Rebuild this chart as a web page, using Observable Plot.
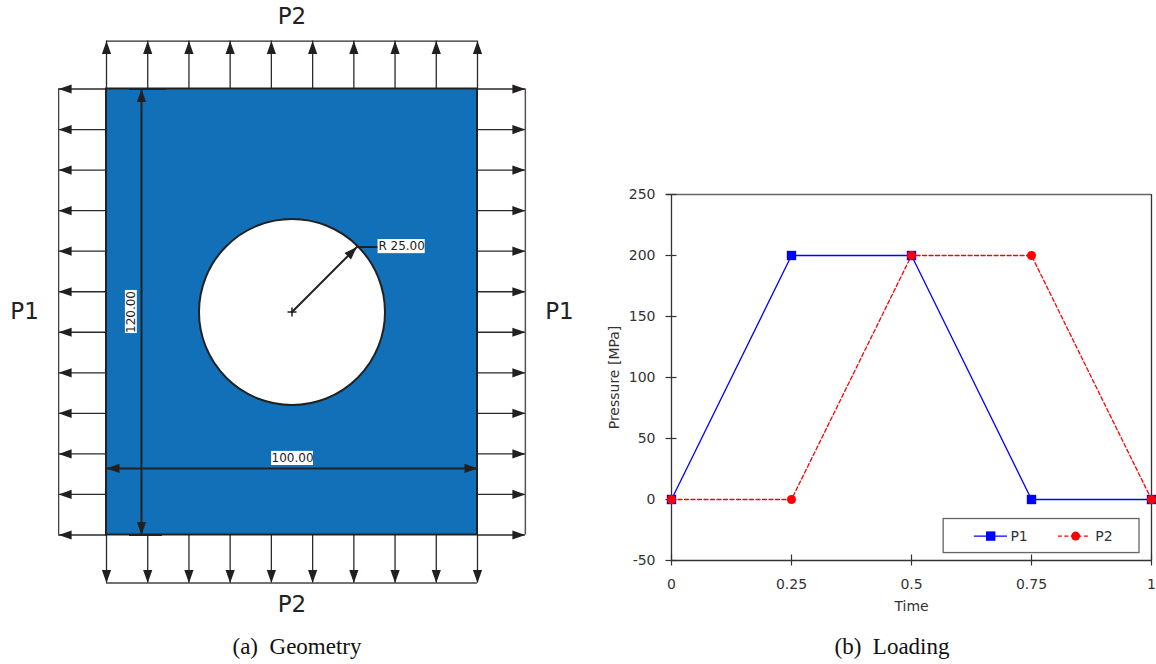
<!DOCTYPE html>
<html><head><meta charset="utf-8">
<script src="https://cdn.jsdelivr.net/npm/d3@7"></script>
<script src="https://cdn.jsdelivr.net/npm/@observablehq/plot@0.6"></script>
<style>
html,body{margin:0;padding:0;background:#fff;overflow:hidden}
#page{position:relative;width:1156px;height:664px}
#left,#right{position:absolute;top:0}
#left{left:0}#right{left:578px}
.cap{position:absolute;top:634px;font:23px "Liberation Serif",serif;color:#111;white-space:pre;text-align:center}
</style></head><body>
<div id="page">
<div id="left"></div><div id="right"></div>
<div class="cap" style="left:0;width:594px">(a)  Geometry</div>
<div class="cap" style="left:692px;width:400px">(b)  Loading</div>
</div>
<script>
// Loading curves
const time = [0, 0.25, 0.5, 0.75, 1];
const p1 = [0, 200, 200, 0, 0];
const p2 = [0, 0, 200, 200, 0];
const xTicks = [0, 0.25, 0.5, 0.75, 1];
const yTicks = [-50, 0, 50, 100, 150, 200, 250];
// Geometry (mm)
const plateW = 100, plateH = 120, holeR = 25;
const holeC = [50, 60];
const loadX = [0, 11.11, 22.22, 33.33, 44.44, 55.56, 66.67, 77.78, 88.89, 100];
const loadY = [0, 10.91, 21.82, 32.73, 43.64, 54.55, 65.45, 76.36, 87.27, 98.18, 109.09, 120];
const reach = 12.9;

const font = "'DejaVu Sans',sans-serif";
const ink = "#2a2a2a";
const head = {draw(c){c.moveTo(0,0);c.lineTo(4.6,13);c.lineTo(-4.6,13);c.closePath();}};
const hd = {fill:"#231f20", symbol:head};

const geo = Plot.plot({
  width:578, height:628, marginLeft:106, marginRight:101, marginTop:88.5, marginBottom:93.5,
  style:{background:"transparent", fontFamily:font},
  x:{domain:[0,plateW], axis:null}, y:{domain:[0,plateH], axis:null},
  r:{type:"linear", domain:[0,holeR], range:[0,93]},
  marks:[
    // load arrows
    Plot.ruleX(loadX,{x:d=>d, y1:plateH, y2:plateH+reach, stroke:ink, strokeWidth:1.3}),
    Plot.ruleX(loadX,{x:d=>d, y1:0, y2:-reach, stroke:ink, strokeWidth:1.3}),
    Plot.ruleY(loadY,{y:d=>d, x1:0, x2:-reach, stroke:ink, strokeWidth:1.3}),
    Plot.ruleY(loadY,{y:d=>d, x1:plateW, x2:plateW+reach, stroke:ink, strokeWidth:1.3}),
    Plot.ruleY([plateH+reach],{x1:0, x2:plateW, stroke:ink, strokeWidth:1.3}),
    Plot.ruleY([-reach],{x1:0, x2:plateW, stroke:"#444", strokeWidth:1.5}),
    Plot.ruleX([-reach],{y1:0, y2:plateH, stroke:"#444", strokeWidth:1.3}),
    Plot.ruleX([plateW+reach],{y1:0, y2:plateH, stroke:"#555", strokeWidth:1.5}),
    Plot.dot(loadX,{x:d=>d, y:plateH+reach, ...hd}),
    Plot.dot(loadX,{x:d=>d, y:-reach, rotate:180, ...hd}),
    Plot.dot(loadY,{x:-reach, y:d=>d, rotate:-90, ...hd}),
    Plot.dot(loadY,{x:plateW+reach, y:d=>d, rotate:90, ...hd}),
    // plate and hole
    Plot.rect([0],{x1:0, x2:plateW, y1:0, y2:plateH, fill:"#1170b8", stroke:"#222", strokeWidth:2}),
    Plot.dot([holeR],{x:holeC[0], y:holeC[1], r:d=>d, fill:"#fff", stroke:"#222", strokeWidth:2}),
    // height dimension
    Plot.ruleX([9.43],{y1:0, y2:plateH, stroke:"#222", strokeWidth:2}),
    Plot.ruleY([plateH],{x1:6.2, x2:16.2, stroke:"#222", strokeWidth:2}),
    Plot.ruleY([0],{x1:6.2, x2:15.1, stroke:"#222", strokeWidth:2}),
    Plot.dot([9.43],{x:d=>d, y:plateH, ...hd}),
    Plot.dot([9.43],{x:d=>d, y:0, rotate:180, ...hd}),
    // width dimension
    Plot.ruleY([17.9],{x1:0, x2:plateW, stroke:"#222", strokeWidth:2}),
    Plot.dot([17.9],{x:0, y:d=>d, rotate:-90, ...hd}),
    Plot.dot([17.9],{x:plateW, y:d=>d, rotate:90, ...hd}),
    // radius dimension
    Plot.line([[50,60],[67.5,77.5],[73.2,77.5]],{x:d=>d[0], y:d=>d[1], stroke:"#222", strokeWidth:2}),
    Plot.dot([[67.5,77.5]],{x:d=>d[0], y:d=>d[1], rotate:45, ...hd}),
    Plot.dot([holeC],{x:d=>d[0], y:d=>d[1], symbol:"plus", stroke:"#222", strokeWidth:1.5, fill:"none"}),
    // dimension labels
    Plot.rect([0],{x1:73.2, x2:85.9, y1:75.7, y2:79.5, fill:"#fff"}),
    Plot.rect([0],{x1:44.5, x2:55.8, y1:18.7, y2:22.5, fill:"#fff"}),
    Plot.rect([0],{x1:5.1, x2:8.3, y1:54.2, y2:65.8, fill:"#fff"}),
    Plot.text(["R 25.00"],{x:79.55, y:77.6, text:d=>d, fontSize:12, fill:"#222"}),
    Plot.text(["100.00"],{x:50.15, y:20.6, text:d=>d, fontSize:12, fill:"#222"}),
    Plot.text(["120.00"],{x:6.7, y:60, text:d=>d, rotate:-90, fontSize:12, fill:"#222"}),
    // load names
    Plot.text(["P2"],{x:50, y:139.5, text:d=>d, fontSize:23, fill:"#222"}),
    Plot.text(["P2"],{x:50, y:-18.7, text:d=>d, fontSize:23, fill:"#222"}),
    Plot.text(["P1"],{x:-22.1, y:60, text:d=>d, fontSize:23, fill:"#222"}),
    Plot.text(["P1"],{x:122.1, y:60, text:d=>d, fontSize:23, fill:"#222"})
  ]
});
document.getElementById("left").append(geo);

const rows = time.map((t,i)=>({t, p1:p1[i], p2:p2[i]}));
const load = Plot.plot({
  width:578, height:628, marginLeft:93, marginRight:5, marginTop:194, marginBottom:68,
  style:{background:"transparent", fontFamily:font},
  x:{domain:[0,1]}, y:{domain:[-50,250]},
  marks:[
    Plot.ruleY([250],{x1:0, x2:1, stroke:"#666", strokeWidth:1.3, insetLeft:-5}),
    Plot.ruleX([0,1],{x:d=>d, y1:-50, y2:250, stroke:"#333", strokeWidth:1.3}),
    Plot.ruleY([-50],{x1:0, x2:1, stroke:"#333", strokeWidth:1.3}),
    Plot.ruleX(xTicks,{x:d=>d, y1:-50, y2:-50, insetTop:-5.5, insetBottom:-5.5, stroke:"#333", strokeWidth:1.2}),
    Plot.ruleY(yTicks,{y:d=>d, x1:0, x2:0, insetLeft:-5.5, insetRight:-5.5, stroke:"#333", strokeWidth:1.2}),
    Plot.axisX({ticks:xTicks, tickSize:0, tickPadding:19, tickFormat:d=>String(d), fontSize:14, color:"#333",
      label:"Time", labelAnchor:"center", labelArrow:"none", labelOffset:50}),
    Plot.axisY({ticks:yTicks, tickSize:0, tickPadding:16, tickFormat:d=>String(d), fontSize:14, color:"#333",
      label:"Pressure [MPa]", labelAnchor:"center", labelArrow:"none", labelOffset:62}),
    Plot.line(rows,{x:"t", y:"p1", stroke:"#0000ff", strokeWidth:1.3}),
    Plot.line(rows,{x:"t", y:"p2", stroke:"#ff0000", strokeWidth:1.3, strokeDasharray:"4,2.5"}),
    Plot.dot(rows,{x:"t", y:"p1", symbol:"square", r:5.3, fill:"#0000ff"}),
    Plot.dot(rows,{x:"t", y:"p2", symbol:"circle", r:4.5, fill:"#ff0000"}),
    // legend
    Plot.rect([0],{x1:0.567, x2:0.975, y1:-43.9, y2:-16, fill:"#fff", stroke:"#666", strokeWidth:1.3}),
    Plot.ruleY([-30],{x1:0.631, x2:0.70, stroke:"#0000ff", strokeWidth:1.3}),
    Plot.ruleY([-30],{x1:0.806, x2:0.871, stroke:"#ff0000", strokeWidth:1.3, strokeDasharray:"4,2.5"}),
    Plot.dot([-30],{x:0.665, y:d=>d, symbol:"square", r:5.3, fill:"#0000ff"}),
    Plot.dot([-30],{x:0.842, y:d=>d, symbol:"circle", r:4.5, fill:"#ff0000"}),
    Plot.text(["P1"],{x:0.706, y:-30, text:d=>d, textAnchor:"start", fontSize:14, fill:"#333"}),
    Plot.text(["P2"],{x:0.883, y:-30, text:d=>d, textAnchor:"start", fontSize:14, fill:"#333"})
  ]
});
document.getElementById("right").append(load);
</script>
</body></html>
